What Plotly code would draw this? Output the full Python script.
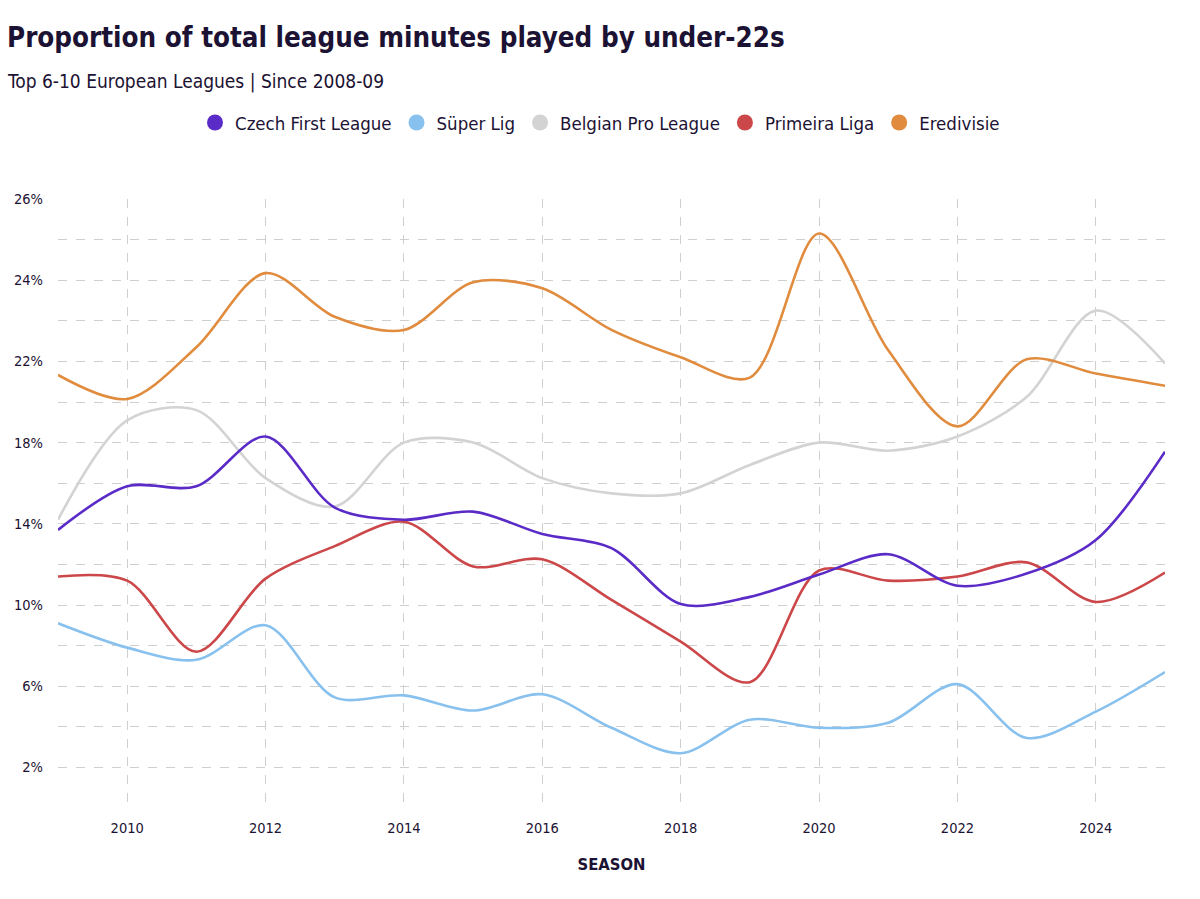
import plotly.graph_objects as go

seasons = list(range(2009, 2026))

czech = [13.7, 15.85, 15.85, 18.3, 14.8, 14.2, 14.6, 13.5, 12.8, 10.05, 10.4, 11.5, 12.5, 10.95, 11.55, 13.2, 17.55]
super_lig = [9.1, 7.9, 7.3, 9.0, 5.45, 5.55, 4.8, 5.6, 3.95, 2.7, 4.35, 3.95, 4.2, 6.1, 3.45, 4.75, 6.7]
belgian = [14.2, 19.1, 19.6, 16.25, 14.85, 18.0, 18.0, 16.25, 15.5, 15.5, 16.9, 18.0, 17.6, 18.3, 20.25, 24.5, 21.9]
primeira = [11.4, 11.2, 7.7, 11.3, 12.9, 14.1, 11.9, 12.25, 10.25, 8.2, 6.2, 11.7, 11.2, 11.4, 12.1, 10.15, 11.6]
eredivisie = [21.33, 20.15, 22.7, 26.35, 24.2, 23.55, 25.9, 25.6, 23.55, 22.2, 21.2, 28.3, 22.55, 18.8, 22.1, 21.4, 20.8]

series_names = ["Czech First League", "Süper Lig", "Belgian Pro League", "Primeira Liga", "Eredivisie"]
series_values = [czech, super_lig, belgian, primeira, eredivisie]
colors = ["#5B2BC7", "#88C1EE", "#D3D3D3", "#CC4749", "#E08B3D"]

y_tickvals = [2, 6, 10, 14, 18, 22, 26, 30]
y_ticktext = ["2%", "6%", "10%", "14%", "18%", "22%", "24%", "26%"]
x_tickvals = [2010, 2012, 2014, 2016, 2018, 2020, 2022, 2024]

FONT = "Liberation Sans Narrow, DejaVu Sans Condensed, Roboto, sans-serif"
TXT = "#1C1233"

fig = go.Figure()
draw_order = [2, 4, 1, 3, 0]
for i in draw_order:
    fig.add_trace(go.Scatter(
        x=seasons, y=series_values[i], mode="lines",
        line=dict(color=colors[i], width=2.6, shape="spline", smoothing=0.9),
        showlegend=False, hoverinfo="skip"))
for i, name in enumerate(series_names):
    fig.add_trace(go.Scatter(
        x=[None], y=[None], mode="markers", name=name,
        marker=dict(color=colors[i], size=17, symbol="circle"),
        showlegend=True))

fig.update_layout(
    width=1200, height=899,
    margin=dict(l=58, r=35, t=199, b=91),
    paper_bgcolor="white", plot_bgcolor="white",
    font=dict(family=FONT, color=TXT, size=14),
    title=dict(text="<b>Proportion of total league minutes played by under-22s</b>",
               xref="container", x=7/1200, xanchor="left",
               yref="container", y=1-37/899, yanchor="middle",
               font=dict(size=27.5, color=TXT, family=FONT)),
    legend=dict(orientation="h", x=0.5, xanchor="center", xref="container",
                y=1-123/899, yref="container", yanchor="middle",
                font=dict(size=18.5, color=TXT, family=FONT),
                itemsizing="trace", itemwidth=30, tracegroupgap=0),
    annotations=[dict(text="Top 6-10 European Leagues | Since 2008-09",
                      xref="paper", x=(5-58)/1107, xanchor="left",
                      yref="paper", y=(808-81)/609, yanchor="middle",
                      showarrow=False, font=dict(size=19, color=TXT, family=FONT))],
    xaxis=dict(range=[2009, 2025], tickvals=x_tickvals, ticktext=[str(v) for v in x_tickvals],
               showgrid=True, gridcolor="#CFCFCF", griddash="dash", gridwidth=1,
               zeroline=False, showline=False, ticks="", ticklen=0, ticklabelstandoff=9,
               tickfont=dict(size=14.5, color=TXT, family=FONT),
               title=dict(text="<b>SEASON</b>", font=dict(size=16.5, color=TXT, family=FONT), standoff=23)),
    yaxis=dict(range=[0, 30], tickvals=y_tickvals, ticktext=y_ticktext,
               showgrid=True, gridcolor="#CFCFCF", griddash="dash", gridwidth=1,
               zeroline=False, showline=False, ticks="", ticklabelstandoff=14,
               tickfont=dict(size=14.5, color=TXT, family=FONT),
               minor=dict(tick0=0, dtick=2, showgrid=True, gridcolor="#CFCFCF", griddash="dash", gridwidth=1)),
    hovermode=False,
)

fig.write_html("out.html")
